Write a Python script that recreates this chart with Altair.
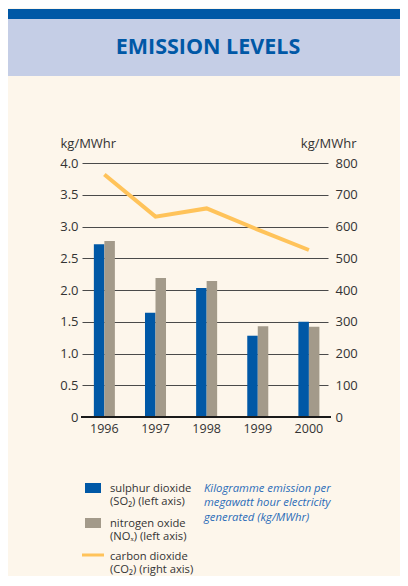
import altair as alt
import pandas as pd

years = ["1996", "1997", "1998", "1999", "2000"]
so2 = [2.72, 1.64, 2.03, 1.28, 1.50]
nox = [2.77, 2.19, 2.14, 1.43, 1.42]
co2 = [764, 631, 657, 590, 526]
left_ticks = [0, 0.5, 1.0, 1.5, 2.0, 2.5, 3.0, 3.5, 4.0]
right_ticks = [0, 100, 200, 300, 400, 500, 600, 700, 800]
series = ["sulphur dioxide", "nitrogen oxide"]

BLUE = "#0058A6"
GRAY = "#A39A8A"
ORANGE = "#FFC35A"
LIGHTBLUE = "#C5CEE6"
CREAM = "#FDF6EB"
TXT = "#333333"
FONT = "Open Sans"

bars_df = pd.DataFrame({
    "year": years * 2,
    "series": [series[0]] * len(years) + [series[1]] * len(years),
    "value": so2 + nox,
})
co2_df = pd.DataFrame({"year": years, "co2": co2})
one = alt.Data(values=[{"k": 0}])

W, H = 246, 254
PL, PT = 74, 155
CW, CH = 392, 568
LG = -4  # legend vertical shift to fit the page

xscale = alt.Scale(domain=years, paddingInner=0.589, paddingOuter=0.2, align=0.58)

bars = alt.Chart(bars_df).mark_bar().encode(
    x=alt.X("year:N", scale=xscale,
            axis=alt.Axis(title=None, labelAngle=0, domain=False, ticks=False,
                          labelPadding=5, labelFontSize=12.5, labelColor=TXT, labelFont=FONT)),
    xOffset=alt.XOffset("series:N", sort=series, scale=alt.Scale(paddingInner=0)),
    y=alt.Y("value:Q", scale=alt.Scale(domain=[0, 4], nice=False),
            axis=alt.Axis(values=left_ticks, grid=True, gridColor="#4a4a4a", gridWidth=1,
                          domain=False, ticks=False, labelPadding=4,
                          labelExpr="datum.value == 0 ? '0' : format(datum.value, '.1f')",
                          labelFontSize=13, labelColor=TXT, labelFont=FONT,
                          title="kg/MWhr", titleAngle=0, titleAlign="left",
                          titleBaseline="middle", titleX=-22, titleY=-20,
                          titleFontSize=13, titleFontWeight="normal", titleColor=TXT,
                          titleFont=FONT)),
    color=alt.Color("series:N", scale=alt.Scale(domain=series, range=[BLUE, GRAY]), legend=None),
)

line = alt.Chart(co2_df).mark_line(color=ORANGE, strokeWidth=4).encode(
    x=alt.X("year:N", scale=xscale),
    y=alt.Y("co2:Q", scale=alt.Scale(domain=[0, 800], nice=False),
            axis=alt.Axis(orient="right", values=right_ticks, grid=False, domain=False,
                          ticks=False, labelPadding=7, labelFontSize=13, labelColor=TXT,
                          labelFont=FONT,
                          title="kg/MWhr", titleAngle=0, titleAlign="right",
                          titleBaseline="middle", titleX=28, titleY=-20,
                          titleFontSize=13, titleFontWeight="normal", titleColor=TXT,
                          titleFont=FONT)),
)

baseline = alt.Chart(one).mark_rule(color="#1a1a1a", strokeWidth=2).encode(
    x=alt.value(-1), x2=alt.value(249), y=alt.value(H))

# banner
blue_bar = alt.Chart(one).mark_rect(color=BLUE).encode(
    x=alt.value(-PL), x2=alt.value(CW - PL), y=alt.value(1 - PT), y2=alt.value(11 - PT))
band = alt.Chart(one).mark_rect(color=LIGHTBLUE).encode(
    x=alt.value(-PL), x2=alt.value(CW - PL), y=alt.value(11 - PT), y2=alt.value(68 - PT))
title = alt.Chart(one).mark_text(fontSize=21.5, fontWeight="bold", color=BLUE, font=FONT,
                                 baseline="middle", align="center").encode(
    x=alt.value(126), y=alt.value(-115), text=alt.value("EMISSION LEVELS"))

# manual legend
sq1 = alt.Chart(one).mark_rect(color=BLUE).encode(
    x=alt.value(3), x2=alt.value(19), y=alt.value(324 + LG), y2=alt.value(334 + LG))
sq2 = alt.Chart(one).mark_rect(color=GRAY).encode(
    x=alt.value(3), x2=alt.value(19), y=alt.value(359 + LG), y2=alt.value(369 + LG))
ln = alt.Chart(one).mark_rule(color=ORANGE, strokeWidth=3).encode(
    x=alt.value(0), x2=alt.value(22), y=alt.value(396 + LG))

def ltext(txt, y):
    return alt.Chart(one).mark_text(align="left", baseline="middle", fontSize=11.2,
                                    color=TXT, font=FONT).encode(
        x=alt.value(28), y=alt.value(y + LG), text=alt.value(txt))

t = [
    ltext("sulphur dioxide", 330),
    ltext("(SO\u2082) (left axis)", 342.5),
    ltext("nitrogen oxide", 364.5),
    ltext("(NO\u2093) (left axis)", 377.5),
    ltext("carbon dioxide", 398),
    ltext("(CO\u2082) (right axis)", 411),
]

def ntext(txt, y):
    return alt.Chart(one).mark_text(align="left", baseline="middle", fontSize=11.3,
                                    fontStyle="italic", color="#2B6CB8", font=FONT).encode(
        x=alt.value(122), y=alt.value(y + LG), text=alt.value(txt))

notes = [
    ntext("Kilogramme emission per", 330),
    ntext("megawatt hour electricity", 344),
    ntext("generated (kg/MWhr)", 359),
]

chart = alt.layer(
    blue_bar, band, title, bars, line, baseline, sq1, sq2, ln, *t, *notes
).resolve_scale(y="independent").properties(
    width=W, height=H, autosize="none",
    padding={"left": PL, "top": PT, "right": CW - PL - W, "bottom": CH - PT - H},
).configure(background=CREAM).configure_view(stroke=None)

chart.save("out.html", embed_options={"renderer": "svg", "actions": False})
